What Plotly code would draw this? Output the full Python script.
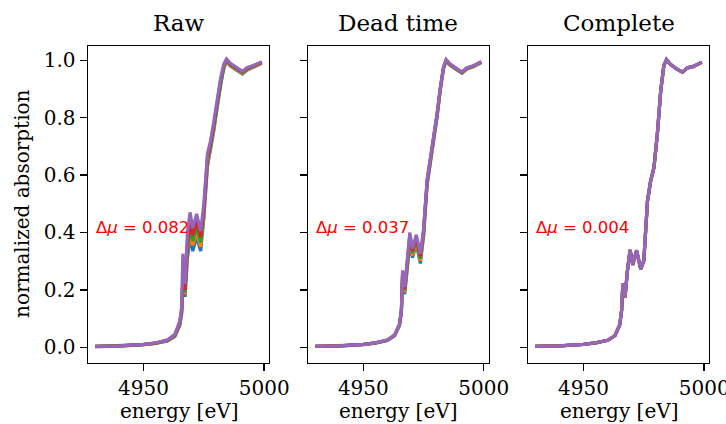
import plotly.graph_objects as go

# ---------------- data ----------------
energy = [4930, 4940, 4950, 4955, 4960, 4963, 4965, 4965.8, 4966.3, 4967.2,
          4968.2, 4969.3, 4970.4, 4972, 4973.7, 4975, 4976.5, 4977.8, 4979.2, 4980.6,
          4982, 4983.3, 4984.4, 4986, 4988.5, 4991, 4993, 4995.5, 4999]

panel_titles = ["Raw", "Dead time", "Complete"]
delta_labels = ["0.082", "0.037", "0.004"]
series_colors = ["#1f77b4", "#ff7f0e", "#2ca02c", "#d62728", "#9467bd"]

# Raw
raw_s1 = [0.002, 0.004, 0.009, 0.013, 0.022, 0.038, 0.075, 0.115, 0.210, 0.175,
          0.310, 0.385, 0.335, 0.385, 0.335, 0.450, 0.630, 0.685, 0.758, 0.842,
          0.920, 0.972, 0.996, 0.980, 0.965, 0.952, 0.966, 0.975, 0.990]
raw_s2 = [0.002, 0.004, 0.009, 0.013, 0.023, 0.040, 0.078, 0.120, 0.223, 0.185,
          0.330, 0.400, 0.355, 0.400, 0.350, 0.460, 0.640, 0.695, 0.765, 0.850,
          0.925, 0.976, 0.998, 0.982, 0.968, 0.955, 0.968, 0.977, 0.991]
raw_s3 = [0.003, 0.005, 0.009, 0.014, 0.024, 0.041, 0.082, 0.125, 0.235, 0.190,
          0.345, 0.420, 0.370, 0.420, 0.365, 0.470, 0.650, 0.700, 0.772, 0.855,
          0.930, 0.980, 1.000, 0.984, 0.970, 0.957, 0.970, 0.978, 0.992]
raw_s4 = [0.003, 0.005, 0.010, 0.014, 0.025, 0.043, 0.086, 0.130, 0.250, 0.200,
          0.360, 0.440, 0.390, 0.440, 0.385, 0.480, 0.660, 0.710, 0.780, 0.862,
          0.935, 0.984, 1.003, 0.986, 0.972, 0.960, 0.972, 0.980, 0.993]
raw_s5 = [0.003, 0.005, 0.010, 0.015, 0.026, 0.045, 0.090, 0.140, 0.326, 0.220,
          0.400, 0.470, 0.415, 0.465, 0.405, 0.500, 0.675, 0.720, 0.790, 0.872,
          0.940, 0.988, 1.005, 0.990, 0.975, 0.962, 0.975, 0.982, 0.995]

# Dead time
dt_s1 = [0.003, 0.004, 0.009, 0.014, 0.023, 0.040, 0.075, 0.120, 0.238, 0.185,
         0.268, 0.365, 0.312, 0.358, 0.292, 0.385, 0.565, 0.640, 0.708, 0.800,
         0.898, 0.970, 0.998, 0.983, 0.968, 0.955, 0.970, 0.977, 0.992]
dt_s2 = [0.003, 0.005, 0.009, 0.014, 0.024, 0.041, 0.077, 0.123, 0.246, 0.192,
         0.277, 0.375, 0.320, 0.367, 0.301, 0.392, 0.570, 0.645, 0.711, 0.804,
         0.900, 0.972, 1.000, 0.984, 0.970, 0.957, 0.971, 0.978, 0.993]
dt_s3 = [0.003, 0.005, 0.010, 0.015, 0.024, 0.042, 0.078, 0.126, 0.253, 0.198,
         0.285, 0.383, 0.328, 0.375, 0.309, 0.398, 0.575, 0.648, 0.714, 0.807,
         0.903, 0.974, 1.001, 0.985, 0.971, 0.958, 0.972, 0.979, 0.994]
dt_s4 = [0.003, 0.005, 0.010, 0.015, 0.025, 0.042, 0.079, 0.128, 0.260, 0.204,
         0.292, 0.391, 0.336, 0.383, 0.317, 0.404, 0.580, 0.651, 0.717, 0.810,
         0.905, 0.975, 1.002, 0.987, 0.972, 0.959, 0.973, 0.980, 0.995]
dt_s5 = [0.003, 0.005, 0.010, 0.015, 0.025, 0.043, 0.080, 0.130, 0.268, 0.210,
         0.300, 0.400, 0.344, 0.392, 0.326, 0.410, 0.585, 0.655, 0.720, 0.813,
         0.907, 0.977, 1.003, 0.988, 0.973, 0.960, 0.974, 0.980, 0.995]

# Complete
cp_s1 = [0.003, 0.005, 0.010, 0.015, 0.024, 0.040, 0.077, 0.128, 0.219, 0.172,
         0.265, 0.337, 0.286, 0.335, 0.271, 0.300, 0.507, 0.577, 0.625, 0.742,
         0.892, 0.981, 1.002, 0.985, 0.970, 0.958, 0.973, 0.978, 0.993]
cp_s2 = [0.003, 0.005, 0.010, 0.015, 0.024, 0.040, 0.077, 0.129, 0.220, 0.173,
         0.266, 0.338, 0.287, 0.336, 0.272, 0.301, 0.508, 0.578, 0.626, 0.743,
         0.893, 0.982, 1.002, 0.985, 0.970, 0.958, 0.973, 0.978, 0.993]
cp_s3 = [0.003, 0.005, 0.010, 0.015, 0.024, 0.040, 0.078, 0.129, 0.221, 0.174,
         0.267, 0.339, 0.288, 0.337, 0.273, 0.302, 0.509, 0.579, 0.627, 0.744,
         0.894, 0.982, 1.003, 0.986, 0.971, 0.959, 0.974, 0.979, 0.994]
cp_s4 = [0.003, 0.005, 0.010, 0.015, 0.024, 0.040, 0.078, 0.130, 0.222, 0.175,
         0.268, 0.340, 0.289, 0.338, 0.274, 0.303, 0.510, 0.580, 0.628, 0.745,
         0.895, 0.983, 1.003, 0.986, 0.971, 0.959, 0.974, 0.979, 0.994]
cp_s5 = [0.003, 0.005, 0.010, 0.015, 0.024, 0.040, 0.078, 0.130, 0.222, 0.175,
         0.268, 0.340, 0.289, 0.338, 0.274, 0.303, 0.510, 0.580, 0.628, 0.745,
         0.895, 0.983, 1.003, 0.986, 0.971, 0.959, 0.974, 0.979, 0.994]

panels = [
    [raw_s1, raw_s2, raw_s3, raw_s4, raw_s5],
    [dt_s1, dt_s2, dt_s3, dt_s4, dt_s5],
    [cp_s1, cp_s2, cp_s3, cp_s4, cp_s5],
]

x_ticks = [4950, 5000]
y_ticks = [0.0, 0.2, 0.4, 0.6, 0.8, 1.0]

# ---------------- layout geometry ----------------
W, H = 726, 424
x_pix = [(88, 269), (308, 488.5), (528, 709)]
y_top, y_bot = 46, 363
SERIF = "DejaVu Serif"
TICK_SIZE = 20
LABEL_SIZE = 20
TITLE_SIZE = 23
NOTE_SIZE = 16.5

fig = go.Figure()
layout = dict(
    width=W, height=H,
    margin=dict(l=0, r=0, t=0, b=0, autoexpand=False),
    paper_bgcolor="white", plot_bgcolor="white",
    showlegend=False,
    font=dict(family=SERIF, size=TICK_SIZE, color="black"),
    annotations=[],
)

for i, series in enumerate(panels):
    xa = "x" if i == 0 else f"x{i+1}"
    ya = "y" if i == 0 else f"y{i+1}"
    for s, col in zip(series, series_colors):
        fig.add_trace(go.Scatter(x=energy, y=s, mode="lines",
                                 line=dict(color=col, width=3.2),
                                 xaxis=xa, yaxis=ya, hoverinfo="skip"))
    xk = "xaxis" if i == 0 else f"xaxis{i+1}"
    yk = "yaxis" if i == 0 else f"yaxis{i+1}"
    layout[xk] = dict(
        domain=[x_pix[i][0] / W, x_pix[i][1] / W],
        anchor=ya, range=[4927, 5002], automargin=False,
        tickvals=x_ticks, ticktext=[str(t) for t in x_ticks],
        ticklabeloverflow="allow",
        ticks="outside", ticklen=7, tickwidth=1.4, tickcolor="black",
        showline=True, linecolor="black", linewidth=1.4, mirror=True,
        showgrid=False, zeroline=False,
        tickfont=dict(family=SERIF, size=TICK_SIZE),
    )
    layout[yk] = dict(
        domain=[1 - y_bot / H, 1 - y_top / H],
        anchor=xa, range=[-0.055, 1.05], automargin=False,
        tickvals=y_ticks, ticktext=[f"{t:.1f}" for t in y_ticks],
        ticklabeloverflow="allow",
        showticklabels=(i == 0),
        ticks="outside", ticklen=7, tickwidth=1.4, tickcolor="black",
        showline=True, linecolor="black", linewidth=1.4, mirror=True,
        showgrid=False, zeroline=False,
        tickfont=dict(family=SERIF, size=TICK_SIZE),
    )
    cx = (x_pix[i][0] + x_pix[i][1]) / 2 / W
    # panel title
    layout["annotations"].append(dict(
        text=panel_titles[i], xref="paper", yref="paper",
        x=cx, y=1 - 22.5 / H,
        xanchor="center", yanchor="middle", showarrow=False,
        font=dict(family=SERIF, size=TITLE_SIZE, color="black"),
    ))
    # x axis title
    layout["annotations"].append(dict(
        text="energy [eV]", xref="paper", yref="paper",
        x=cx, y=1 - 411 / H,
        xanchor="center", yanchor="middle", showarrow=False,
        font=dict(family=SERIF, size=LABEL_SIZE, color="black"),
    ))
    # delta mu label
    layout["annotations"].append(dict(
        text="Δ<i>μ</i> = " + delta_labels[i],
        xref=xa, yref=ya, x=4929.6, y=0.419,
        xanchor="left", yanchor="middle", showarrow=False,
        font=dict(family="DejaVu Sans", size=NOTE_SIZE, color="red"),
    ))

# y axis title
layout["annotations"].append(dict(
    text="normalized absorption", xref="paper", yref="paper",
    x=22 / W, y=1 - 204 / H, textangle=-90,
    xanchor="center", yanchor="middle", showarrow=False,
    font=dict(family=SERIF, size=LABEL_SIZE, color="black"),
))

fig.update_layout(**layout)
fig.write_html("out.html",
               config={"displayModeBar": False, "staticPlot": True},
               post_script="document.body.style.margin='0px';document.body.style.overflow='hidden';")
